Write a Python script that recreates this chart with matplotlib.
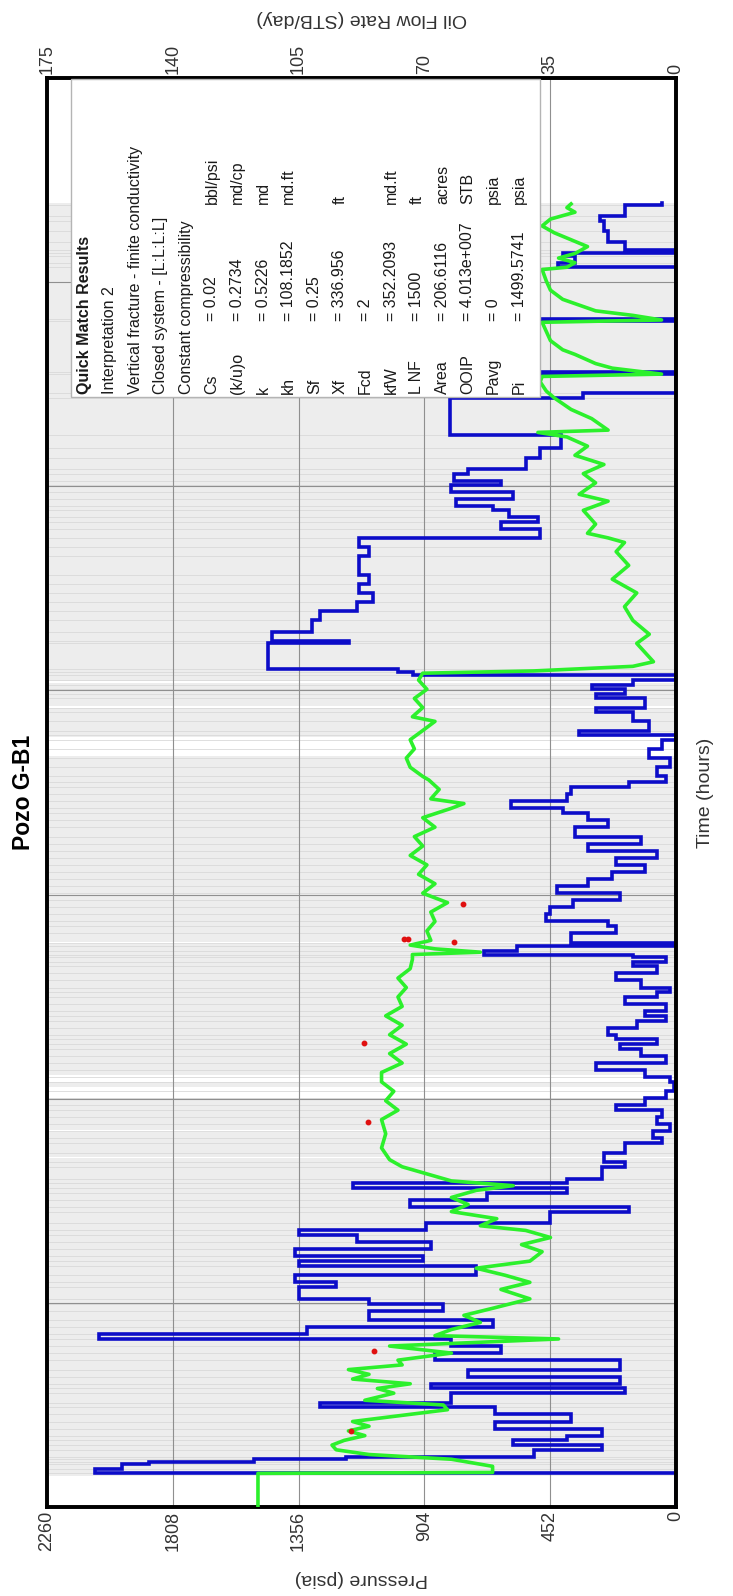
import numpy as np
import matplotlib
matplotlib.use("Agg")
import matplotlib.pyplot as plt
from matplotlib.patches import Rectangle

plt.rcParams['font.family'] = ['Liberation Sans', 'DejaVu Sans']

# ---------------- data ----------------
time_ticks = [0, 49285.7, 98571.4, 147857, 197143, 246429, 295714, 345000]
time_tick_labels = ['0', '49285.7', '98571.4', '147857', '197143', '246429', '295714', '345000']
pressure_ticks = [2260, 1808, 1356, 904, 452, 0]
rate_ticks = [175, 140, 105, 70, 35, 0]

# oil rate history (step starts, thousand hours) and rate (STB/day)
rate_time_kh = [0, 8.12, 9.26, 10.39, 10.96, 11.53, 12.10, 13.81, 14.95, 16.09,
                17.23, 18.93, 20.64, 22.35, 24.06, 25.20, 27.48, 28.61, 29.75, 31.46,
                33.17, 35.45, 37.16, 38.86, 40.57, 41.71, 43.42, 45.13, 47.41, 49.11,
                50.25, 53.10, 54.23, 55.95, 58.22, 59.36, 60.50, 62.21, 63.92, 65.62,
                66.76, 68.47, 71.32, 72.46, 74.17, 75.87, 77.01, 78.15, 79.29, 82.14,
                83.28, 85.56, 87.83, 88.97, 90.68, 92.39, 94.10, 95.80, 96.94, 98.65,
                100.36, 102.64, 103.77, 105.48, 107.19, 108.90, 110.61, 111.75, 112.89, 114.02,
                115.73, 117.44, 118.58, 119.72, 121.43, 123.14, 124.27, 125.41, 127.12, 128.83,
                130.54, 131.68, 132.81, 133.16, 134.30, 135.43, 136.23, 138.51, 140.22, 141.36,
                143.06, 144.77, 146.48, 148.19, 149.90, 151.61, 153.31, 155.02, 156.73, 158.44,
                160.15, 161.85, 164.13, 165.84, 167.55, 168.69, 170.40, 172.10, 173.81, 174.95,
                176.38, 178.59, 180.81, 183.03, 185.24, 186.35, 187.46, 189.67, 191.89, 193.00,
                195.21, 196.32, 197.42, 198.53, 199.64, 200.75, 201.63, 202.41, 208.50, 209.05,
                211.27, 214.04, 216.25, 218.47, 220.68, 222.90, 225.11, 229.54, 231.76, 233.97,
                236.19, 237.85, 238.95, 240.62, 241.73, 243.38, 245.05, 246.71, 247.81, 249.48,
                250.58, 253.35, 255.57, 258.89, 267.75, 268.86, 273.62, 274.06, 286.35, 286.80,
                299.31, 300.42, 302.08, 302.86, 303.52, 305.40, 308.17, 310.39, 311.72, 314.27]
rate_stb = [0, 161.6, 154.1, 146.7, 117.5, 91.7, 39.5, 20.6, 45.3, 30.4,
            20.6, 50.4, 29.2, 50.4, 99.1, 62.5, 14.3, 68.2, 15.5, 57.9,
            15.5, 67.0, 48.7, 62.5, 160.4, 102.6, 51.0, 85.4, 64.8, 85.4,
            104.9, 94.5, 106.0, 55.6, 104.9, 70.5, 106.0, 68.2, 88.8, 104.9,
            69.6, 35.0, 13.2, 73.9, 52.7, 30.4, 90.0, 30.4, 20.6, 14.3,
            20.0, 14.3, 4.0, 6.3, 1.7, 5.2, 4.0, 16.6, 8.6, 2.9,
            0.6, 1.7, 8.6, 22.3, 2.9, 9.7, 15.5, 5.2, 16.6, 18.9,
            10.9, 2.9, 8.6, 2.9, 14.3, 5.2, 1.7, 9.7, 16.6, 5.2,
            12.0, 2.9, 12.0, 53.3, 44.1, 0, 29.2, 16.6, 18.9, 36.1,
            35.0, 28.6, 15.5, 33.2, 24.6, 17.8, 8.6, 16.6, 5.2, 24.6,
            9.7, 28.1, 18.9, 24.6, 31.5, 45.8, 30.4, 29.2, 13.2, 2.9,
            5.2, 1.7, 7.4, 4.0, 0, 26.9, 7.4, 12.0, 22.3, 8.6,
            22.3, 14.3, 23.5, 12.0, 0, 73.3, 77.4, 113.5, 91.1, 112.3,
            101.4, 99.1, 88.8, 84.2, 88.2, 85.4, 88.2, 85.4, 88.2, 37.8,
            48.7, 38.4, 46.4, 51.0, 61.3, 45.3, 62.5, 48.7, 61.9, 57.9,
            41.8, 37.8, 32.1, 63.0, 25.8, 0, 37.2, 0, 37.2, 0,
            32.7, 28.1, 31.5, 0, 14.3, 18.9, 20.0, 21.2, 14.3, 4.0]
rate_end_kh = 314.8

# simulated pressure (thousand hours, psia)
sim_time_kh = [0, 8.12, 8.34, 9.82, 11.53, 12.67, 13.81, 14.95, 16.09, 17.23,
               18.37, 19.50, 20.64, 23.49, 24.63, 25.77, 27.48, 28.61, 29.75, 30.89,
               32.03, 33.17, 34.31, 35.45, 37.16, 38.86, 40.57, 41.37, 42.85, 44.56,
               46.27, 47.97, 50.25, 52.53, 54.24, 55.95, 57.65, 59.36, 61.64, 63.35,
               65.06, 66.77, 67.90, 69.61, 71.32, 73.03, 74.73, 76.44, 77.58, 78.72,
               80.43, 82.14, 83.85, 86.69, 90.11, 93.53, 95.80, 98.08, 100.36, 102.64,
               104.91, 107.19, 109.47, 111.75, 114.02, 116.30, 118.58, 120.86, 123.14, 125.41,
               127.69, 129.97, 132.24, 133.38, 133.95, 134.75, 135.66, 136.80, 139.08, 141.36,
               143.63, 145.91, 148.19, 150.47, 152.74, 155.02, 157.30, 159.58, 161.85, 164.13,
               166.41, 168.69, 169.83, 170.96, 173.24, 175.52, 176.38, 178.59, 180.81, 183.03,
               185.24, 187.46, 189.67, 190.78, 192.99, 195.21, 197.42, 199.64, 201.30, 201.85,
               202.96, 204.07, 206.28, 208.50, 210.71, 214.04, 217.36, 220.68, 224.00, 227.33,
               230.65, 232.86, 233.97, 235.08, 237.29, 240.62, 242.83, 244.49, 247.26, 249.48,
               251.69, 253.91, 256.12, 258.34, 259.44, 259.99, 262.77, 264.98, 267.75, 269.41,
               271.63, 272.95, 273.51, 274.95, 276.06, 278.27, 279.38, 281.59, 283.81, 286.02,
               286.58, 287.69, 288.79, 291.56, 293.77, 295.99, 298.76, 299.31, 300.42, 301.53,
               302.63, 304.30, 305.96, 307.62, 309.28, 310.94, 312.60, 313.71, 314.60]
sim_psia = [1502, 1502, 659, 659, 807, 1103, 1221, 1236, 1192, 1118,
            1177, 1103, 1162, 821, 836, 1118, 1014, 1073, 955, 1162,
            1103, 1177, 984, 999, 807, 1029, 422, 866, 807, 703,
            762, 659, 525, 629, 525, 614, 718, 525, 481, 555,
            451, 540, 703, 644, 807, 747, 807, 718, 585, 807,
            895, 984, 1029, 1058, 1043, 1058, 999, 1043, 1014, 1058,
            1058, 984, 1029, 969, 1029, 984, 1043, 984, 999, 969,
            999, 955, 947, 947, 703, 866, 955, 881, 895, 866,
            881, 821, 910, 866, 925, 895, 955, 910, 940, 866,
            910, 807, 762, 881, 851, 888, 910, 955, 969, 940,
            955, 910, 866, 947, 910, 940, 895, 925, 910, 511,
            155, 81, 111, 141, 96, 155, 185, 141, 229, 170,
            215, 185, 244, 318, 289, 333, 244, 348, 289, 333,
            259, 363, 318, 392, 496, 244, 303, 377, 437, 466,
            488, 481, 52, 229, 289, 363, 407, 451, 466, 481,
            52, 155, 289, 407, 451, 466, 481, 392, 363, 422,
            363, 318, 377, 437, 481, 451, 363, 392, 377]

# measured pressure points
meas_time_kh = [18.35, 37.71, 92.95, 112.09, 136.46, 137.14, 137.14, 145.56]
meas_psia = [1169, 1085, 1107, 1122, 799, 977, 962, 767]

# shaded data period and gaps (thousand hours)
data_span_kh = (7.5, 314.8)
gap_start_kh = [84.2, 90.5, 98.7, 102.6, 136.0, 181.4, 192.8, 198.9]
gap_end_kh = [84.6, 90.9, 101.5, 104.3, 136.4, 185.8, 193.4, 199.3]

header_lines = ["Interpretation 2", "Vertical fracture - finite conductivity",
                "Closed system - [L:L:L:L]", "Constant compressibility"]
box_names = ["Cs", "(k/u)o", "k", "kh", "Sf", "Xf", "Fcd", "kfW", "L NF", "Area", "OOIP", "Pavg", "Pi"]
box_values = ["= 0.02", "= 0.2734", "= 0.5226", "= 108.1852", "= 0.25", "= 336.956", "= 2",
              "= 352.2093", "= 1500", "= 206.6116", "= 4.013e+007", "= 0", "= 1499.5741"]
box_units = ["bbl/psi", "md/cp", "md", "md.ft", "", "ft", "", "md.ft", "ft", "acres", "STB", "psia", "psia"]

# ---------------- figure ----------------
W, H = 733, 1596
fig = plt.figure(figsize=(W / 100, H / 100), dpi=100)
L, R, T, B = 47, 676, 78, 1507


def fx(x):
    return x / W


def fy(y):
    return 1 - y / H


axr = fig.add_axes([fx(L), fy(B), (R - L) / W, (B - T) / H])   # rate axis (background layer)
axp = axr.twiny()                                               # pressure axis (front layer)

axr.set_zorder(1)
axp.set_zorder(2)
axp.patch.set_visible(False)
axr.set_facecolor('white')

tmax = time_ticks[-1]
axr.set_ylim(0, tmax)
axr.set_xlim(rate_ticks[0], rate_ticks[-1])
axp.set_xlim(pressure_ticks[0], pressure_ticks[-1])

# background shading
axr.axhspan(data_span_kh[0] * 1000, data_span_kh[1] * 1000, color='#ededed', lw=0, zorder=0)
for a, b in zip(gap_start_kh, gap_end_kh):
    axr.axhspan(a * 1000, b * 1000, color='white', lw=0, zorder=0.1)
for t in rate_time_kh[1:]:
    axr.axhline(t * 1000, color='#d9d9d9', lw=0.6, zorder=0.2)
# grid
for t in time_ticks[1:-1]:
    axr.axhline(t, color='#8f8f8f', lw=0.8, zorder=0.3)
for r in rate_ticks[1:-1]:
    axr.axvline(r, color='#8f8f8f', lw=0.8, zorder=0.3)

# rate step line
rt = np.array(rate_time_kh) * 1000
rv = np.array(rate_stb)
t_ext = np.append(rt, rate_end_kh * 1000)
ys = np.repeat(t_ext, 2)[1:-1]
xs = np.repeat(rv, 2)
axr.plot(xs, ys, color='#0c0cc8', lw=2.6, zorder=2, solid_joinstyle='miter')

# pressure
axp.plot(sim_psia, np.array(sim_time_kh) * 1000, color='#2cf02c', lw=2.6, zorder=3)
axp.plot(meas_psia, np.array(meas_time_kh) * 1000, 'o', color='#e01010', ms=3.2, zorder=4)

# ticks
axp.set_xticks(pressure_ticks)
axp.set_xticklabels([str(p) for p in pressure_ticks], rotation=90)
axp.xaxis.set_ticks_position('bottom')
axp.xaxis.set_label_position('bottom')
axr.set_xticks(rate_ticks)
axr.set_xticklabels([str(r) for r in rate_ticks], rotation=90)
axr.xaxis.set_ticks_position('top')
axr.set_yticks(time_ticks)
axr.set_yticklabels(time_tick_labels, rotation=90, va='center')
axr.yaxis.set_ticks_position('right')
axp.set_yticks([])
for a in (axr, axp):
    a.tick_params(length=0, labelsize=13, pad=3, colors='#333333')
    for s in a.spines.values():
        s.set_linewidth(2.6)
        s.set_color('black')

# axis titles
fig.text(fx(24), fy((T + B) / 2), 'Pozo G-B1', rotation=90, ha='center', va='center',
         fontsize=16.5, fontweight='bold')
fig.text(fx(706), fy((T + B) / 2), 'Time (hours)', rotation=90, ha='center', va='center',
         fontsize=14, color='#333333')
fig.text(fx((L + R) / 2), fy(1578), 'Pressure (psia)', rotation=180, ha='center', va='center',
         fontsize=14, color='#333333')
fig.text(fx((L + R) / 2), fy(18), 'Oil Flow Rate (STB/day)', rotation=180, ha='center', va='center',
         fontsize=14, color='#333333')

# quick match box
bx0, bx1, by0, by1 = 71, 540, 79, 397
fig.patches.append(Rectangle((fx(bx0), fy(by1)), (bx1 - bx0) / W, (by1 - by0) / H,
                             transform=fig.transFigure, facecolor='white',
                             edgecolor='#b4b4b4', lw=1.0, zorder=5))
col0, dcol = 84, 25.6
y_name, y_val, y_unit = 394, 321, 204
kw = dict(rotation=90, rotation_mode='anchor', ha='left', va='center', fontsize=11.5,
          color='#1a1a1a', zorder=6)
fig.text(fx(col0), fy(y_name), 'Quick Match Results', fontweight='bold', **kw)
for i, line in enumerate(header_lines):
    fig.text(fx(col0 + dcol * (i + 1)), fy(y_name), line, **kw)
for j, (n, v, u) in enumerate(zip(box_names, box_values, box_units)):
    x = col0 + dcol * (j + 1 + len(header_lines))
    fig.text(fx(x), fy(y_name), n, **kw)
    fig.text(fx(x), fy(y_val), v, **kw)
    if u:
        fig.text(fx(x), fy(y_unit), u, **kw)

fig.savefig('out.png', dpi=100)
